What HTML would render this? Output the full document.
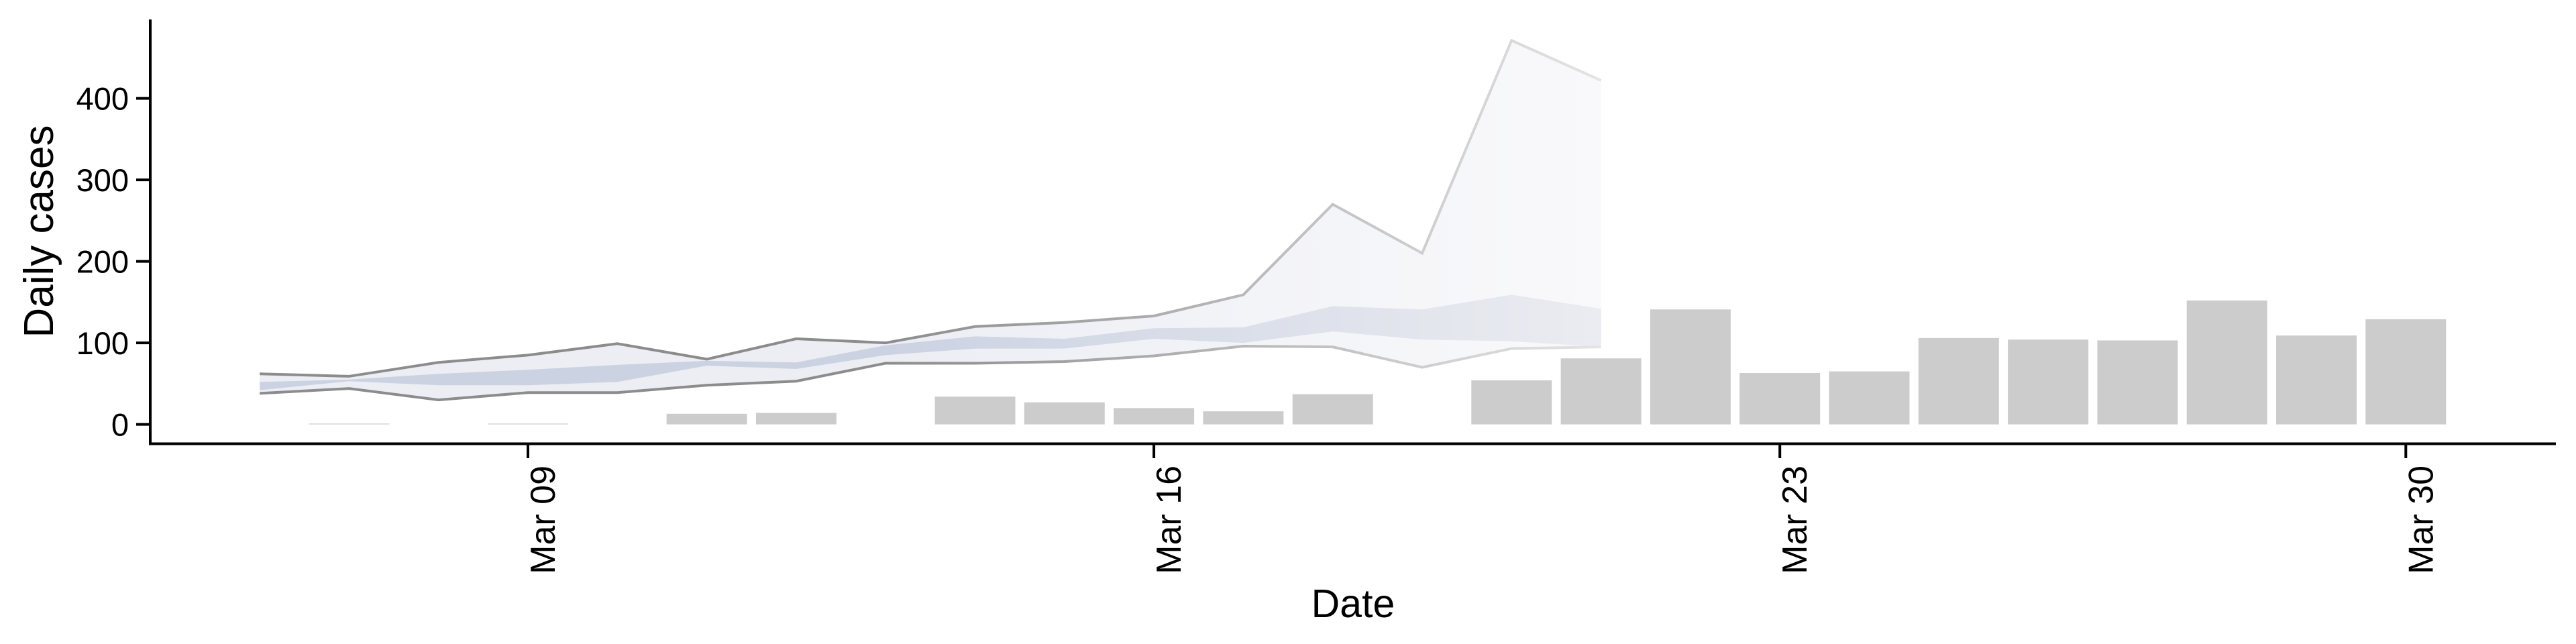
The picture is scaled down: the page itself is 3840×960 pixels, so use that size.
<!DOCTYPE html>
<html><head><meta charset="utf-8"><style>
html,body{margin:0;padding:0;background:#fff;}
svg{display:block;font-family:"Liberation Sans",sans-serif;}
</style></head><body>
<svg id="chart" width="3840" height="960" viewBox="0 0 3840 960" xmlns="http://www.w3.org/2000/svg">
<defs>
<linearGradient id="gLine" gradientUnits="userSpaceOnUse" x1="1320" y1="0" x2="2387" y2="0">
<stop offset="0" stop-color="#8c8c8c"/><stop offset="1" stop-color="#e4e4e4"/></linearGradient>
<linearGradient id="gOuter" gradientUnits="userSpaceOnUse" x1="1320" y1="0" x2="2387" y2="0">
<stop offset="0" stop-color="#eceef4"/><stop offset="1" stop-color="#f9f9fb"/></linearGradient>
<linearGradient id="gInner" gradientUnits="userSpaceOnUse" x1="1320" y1="0" x2="2387" y2="0">
<stop offset="0" stop-color="#cbd2e2"/><stop offset="1" stop-color="#ebecf1"/></linearGradient>
</defs>
<g id="plot"></g>
</svg>
<script>
// Day offsets relative to Mar 09
const barDays = [-2,-1,0,1,2,3,4,5,6,7,8,9,10,11,12,13,14,15,16,17,18,19,20,21];
const barValues = [1,0,1,0,13,14,0,34,27,20,16,37,0,54,81,141,63,65,106,104,103,152,109,129];
const bandDays = [-3,-2,-1,0,1,2,3,4,5,6,7,8,9,10,11,12];
const outerUpper = [62,59,76,85,99,80,105,100,120,125,133,159,270,210,471,422];
const outerLower = [38,44,30,39,39,48,53,75,75,77,84,96,95,70,93,95];
const innerUpper = [52,55,62,67,73,78,76,97,108,105,118,119,145,141,159,142];
const innerLower = [42,53,48,48,52,72,68,85,93,93,105,100,114,104,102,95];
const yTicks = [0,100,200,300,400];
const xTickDays = [0,7,14,21];
const xTickLabels = ["Mar 09","Mar 16","Mar 23","Mar 30"];

const X0 = 787, DAY = 133.3, Y0 = 632.6, YS = 1.215;
const xs = d => X0 + DAY * d;
const ys = v => Y0 - YS * v;
const NS = "http://www.w3.org/2000/svg";
const g = document.getElementById('plot');
function mk(tag, attrs, parent){
  const e = document.createElementNS(NS, tag);
  for (const k in attrs) e.setAttribute(k, attrs[k]);
  (parent || g).appendChild(e);
  return e;
}
function band(up, lo){
  let p = bandDays.map((d,i)=>xs(d)+','+ys(up[i]));
  let q = bandDays.map((d,i)=>xs(d)+','+ys(lo[i])).reverse();
  return p.concat(q).join(' ');
}
// outer band
const ob = mk('polygon',{points:band(outerUpper,outerLower),fill:'url(#gOuter)'});


const ib = mk('polygon',{points:band(innerUpper,innerLower),fill:'url(#gInner)'});


const ul = mk('polyline',{points:bandDays.map((d,i)=>xs(d)+','+ys(outerUpper[i])).join(' '),fill:'none',stroke:'url(#gLine)','stroke-width':4});


const ll = mk('polyline',{points:bandDays.map((d,i)=>xs(d)+','+ys(outerLower[i])).join(' '),fill:'none',stroke:'url(#gLine)','stroke-width':4});


// bars
barDays.forEach((d,i)=>{
  const v = barValues[i];
  const h = Math.max(YS*v, v>0?1:0);
  if (h<=0) return;
  const r = mk('rect',{x:xs(d)-DAY*0.45,y:Y0-h,width:DAY*0.9,height:h,fill:'#cccccc'});
  
  
});
// axes
const ya = mk('line',{x1:224,y1:29,x2:224,y2:663,stroke:'#000','stroke-width':4});


const xa = mk('line',{x1:222,y1:661.5,x2:3810,y2:661.5,stroke:'#000','stroke-width':4});


yTicks.forEach(v=>{
  const t = mk('line',{x1:203,y1:ys(v),x2:224,y2:ys(v),stroke:'#000','stroke-width':4});
  
  
  const l = mk('text',{x:192,y:ys(v)+17,'text-anchor':'end','font-size':47,fill:'#000'});
  l.textContent = v;
  
  
});
xTickDays.forEach((d,i)=>{
  const x = xs(d);
  const t = mk('line',{x1:x,y1:661.5,x2:x,y2:683,stroke:'#000','stroke-width':4});
  
  
  const l = mk('text',{x:0,y:0,'text-anchor':'end','font-size':52,fill:'#000',transform:'translate('+(x+40)+',694) rotate(-90)'});
  l.textContent = xTickLabels[i];
  
  
});
const yt = mk('text',{x:0,y:0,'text-anchor':'middle','font-size':62,fill:'#000',transform:'translate(79,345) rotate(-90)'});
yt.textContent = 'Daily cases';


const xt = mk('text',{x:2017,y:920,'text-anchor':'middle','font-size':59,fill:'#000'});
xt.textContent = 'Date';


</script>
</body></html>
